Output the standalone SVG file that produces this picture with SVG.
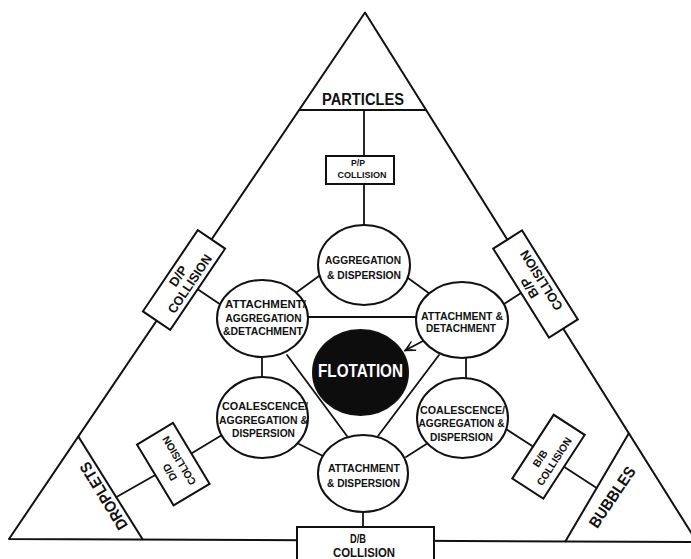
<svg xmlns="http://www.w3.org/2000/svg" width="691" height="559" viewBox="0 0 691 559">
<defs>
<style>
.ln{stroke:#111;stroke-width:1.8;fill:none;stroke-linecap:round}
.edge{stroke:#111;stroke-width:2;fill:none;stroke-linejoin:round}
.nd{fill:#fff;stroke:#111;stroke-width:2}
.t{font-family:"Liberation Sans",Arial,sans-serif;font-weight:bold;fill:#111;text-anchor:middle}
.c{font-size:11.5px}
.big{font-size:16px}
</style>
<marker id="ah" viewBox="0 0 12 12" refX="11" refY="6" markerWidth="12" markerHeight="12" markerUnits="userSpaceOnUse" orient="auto">
<path d="M1,1 L11,6 L1,11 M4,3 L10,6 L4,9" fill="none" stroke="#111" stroke-width="1.3"/>
</marker>
</defs>
<rect width="691" height="559" fill="#fff"/>

<g id="frame">
<path class="edge" d="M365,12.5 L9,539 L697,542 Z"/>
<line class="edge" x1="299" y1="110" x2="426" y2="110"/>
<line class="edge" x1="78" y1="436" x2="143" y2="540"/>
<line class="edge" x1="629" y1="433" x2="565" y2="542"/>
<text class="t big" x="363" y="104.5" textLength="82" lengthAdjust="spacingAndGlyphs">PARTICLES</text>
<text class="t big" transform="translate(103.5,496) rotate(-121.6)" x="0" y="5.7" textLength="76" lengthAdjust="spacingAndGlyphs">DROPLETS</text>
<text class="t big" transform="translate(612,497) rotate(-56)" x="0" y="5.7" textLength="70" lengthAdjust="spacingAndGlyphs">BUBBLES</text>
</g>

<g id="connectors">
<line class="ln" x1="364" y1="110" x2="364" y2="156"/>
<line class="ln" x1="364" y1="184" x2="364" y2="226"/>
<line class="ln" x1="319" y1="276" x2="297" y2="292"/>
<line class="ln" x1="408" y1="278" x2="430" y2="294"/>
<line class="ln" x1="308" y1="317" x2="417" y2="317"/>
<line class="ln" x1="262" y1="356" x2="262" y2="378"/>
<line class="ln" x1="466" y1="357" x2="466" y2="379"/>
<line class="ln" x1="287" y1="355" x2="347" y2="436"/>
<line class="ln" x1="439" y1="355" x2="378" y2="436"/>
<line class="ln" x1="297" y1="443" x2="323" y2="456"/>
<line class="ln" x1="428" y1="443" x2="406" y2="457"/>
<line class="ln" x1="363" y1="511" x2="363" y2="528"/>
<line class="ln" x1="197.7" y1="289.2" x2="220" y2="304.3"/>
<line class="ln" x1="521" y1="293" x2="504" y2="304"/>
<line class="ln" x1="116.5" y1="497" x2="155.3" y2="475"/>
<line class="ln" x1="191.3" y1="453.4" x2="222" y2="435"/>
<line class="ln" x1="533" y1="446.6" x2="506" y2="429"/>
<line class="ln" x1="564" y1="466.8" x2="596.7" y2="488"/>
<line class="ln" x1="423" y1="341" x2="405" y2="350.5" marker-end="url(#ah)"/>
</g>

<g id="pp-collision">
<rect class="nd" x="326" y="156" width="68" height="28"/>
<text class="t" font-size="9" x="358" y="166" textLength="14" lengthAdjust="spacingAndGlyphs">P/P</text>
<text class="t" font-size="9.5" x="362" y="177.5" textLength="49" lengthAdjust="spacingAndGlyphs">COLLISION</text>
</g>

<g id="dp-collision" transform="translate(184,280) rotate(-55.95)">
<rect class="nd" x="-49" y="-16.5" width="98" height="33"/>
<text class="t" font-size="13" x="0" y="-2.5" textLength="22" lengthAdjust="spacingAndGlyphs">D/P</text>
<text class="t" font-size="13" x="0" y="11.5" textLength="68" lengthAdjust="spacingAndGlyphs">COLLISION</text>
</g>

<g id="bp-collision" transform="translate(535.5,284) rotate(-122.1)">
<rect class="nd" x="-52.5" y="-17" width="105" height="34"/>
<text class="t" font-size="13" x="0" y="-2.5" textLength="22" lengthAdjust="spacingAndGlyphs">B/P</text>
<text class="t" font-size="13" x="0" y="11.5" textLength="68" lengthAdjust="spacingAndGlyphs">COLLISION</text>
</g>

<g id="dd-collision" transform="translate(173.3,464.2) rotate(-121)">
<rect class="nd" x="-35.5" y="-21" width="71" height="42"/>
<text class="t" font-size="10.5" x="-5" y="-3.5" textLength="18" lengthAdjust="spacingAndGlyphs">D/D</text>
<text class="t" font-size="10.5" x="0" y="10.5" textLength="55" lengthAdjust="spacingAndGlyphs">COLLISION</text>
</g>

<g id="bb-collision" transform="translate(548.5,456.7) rotate(-57)">
<rect class="nd" x="-38" y="-18.5" width="76" height="37"/>
<text class="t" font-size="10.5" x="-6" y="-2.5" textLength="18" lengthAdjust="spacingAndGlyphs">B/B</text>
<text class="t" font-size="10.5" x="-1" y="11" textLength="55" lengthAdjust="spacingAndGlyphs">COLLISION</text>
</g>

<g id="db-collision">
<rect class="nd" x="297" y="527" width="137" height="40"/>
<text class="t" font-size="13" x="358" y="543" textLength="16" lengthAdjust="spacingAndGlyphs">D/B</text>
<text class="t" font-size="13" x="364" y="556.5" textLength="62" lengthAdjust="spacingAndGlyphs">COLLISION</text>
</g>

<g id="aggregation-dispersion">
<ellipse class="nd" cx="364" cy="265" rx="46" ry="40"/>
<text class="t c" x="363" y="264" textLength="76" lengthAdjust="spacingAndGlyphs">AGGREGATION</text>
<text class="t c" x="364" y="279" textLength="74" lengthAdjust="spacingAndGlyphs">&amp; DISPERSION</text>
</g>

<g id="attachment-aggregation-detachment">
<ellipse class="nd" cx="262.5" cy="318.5" rx="45.5" ry="38.5"/>
<text class="t c" x="265.5" y="307.5" textLength="81" lengthAdjust="spacingAndGlyphs">ATTACHMENT/</text>
<text class="t c" x="263.5" y="321.5" textLength="76" lengthAdjust="spacingAndGlyphs">AGGREGATION</text>
<text class="t c" x="263" y="335" textLength="80" lengthAdjust="spacingAndGlyphs">&amp;DETACHMENT</text>
</g>

<g id="attachment-detachment">
<ellipse class="nd" cx="462" cy="320" rx="46" ry="38"/>
<text class="t c" x="462" y="319.5" textLength="82" lengthAdjust="spacingAndGlyphs">ATTACHMENT &amp;</text>
<text class="t c" x="461" y="332" textLength="70" lengthAdjust="spacingAndGlyphs">DETACHMENT</text>
</g>

<g id="flotation">
<ellipse cx="360.5" cy="372.5" rx="47.5" ry="42.5" fill="#0d0d0d" stroke="#111" stroke-width="2"/>
<text class="t" font-size="18" x="360.5" y="377" fill="#fff" style="fill:#fff" textLength="85" lengthAdjust="spacingAndGlyphs">FLOTATION</text>
</g>

<g id="coalescence-left">
<ellipse class="nd" cx="262.5" cy="417.5" rx="45.5" ry="40.5"/>
<text class="t c" x="265" y="410" textLength="86" lengthAdjust="spacingAndGlyphs">COALESCENCE/</text>
<text class="t c" x="263.5" y="423.5" textLength="89" lengthAdjust="spacingAndGlyphs">AGGREGATION &amp;</text>
<text class="t c" x="263.5" y="437" textLength="63" lengthAdjust="spacingAndGlyphs">DISPERSION</text>
</g>

<g id="coalescence-right">
<ellipse class="nd" cx="462.5" cy="418" rx="45.5" ry="40"/>
<text class="t c" x="462.5" y="414" textLength="85" lengthAdjust="spacingAndGlyphs">COALESCENCE/</text>
<text class="t c" x="461.5" y="427" textLength="86" lengthAdjust="spacingAndGlyphs">AGGREGATION &amp;</text>
<text class="t c" x="461.5" y="441" textLength="63" lengthAdjust="spacingAndGlyphs">DISPERSION</text>
</g>

<g id="attachment-dispersion">
<ellipse class="nd" cx="363" cy="473.5" rx="45" ry="38.5"/>
<text class="t c" x="364" y="471.5" textLength="72" lengthAdjust="spacingAndGlyphs">ATTACHMENT</text>
<text class="t c" x="363.5" y="486.5" textLength="73" lengthAdjust="spacingAndGlyphs">&amp; DISPERSION</text>
</g>
</svg>
